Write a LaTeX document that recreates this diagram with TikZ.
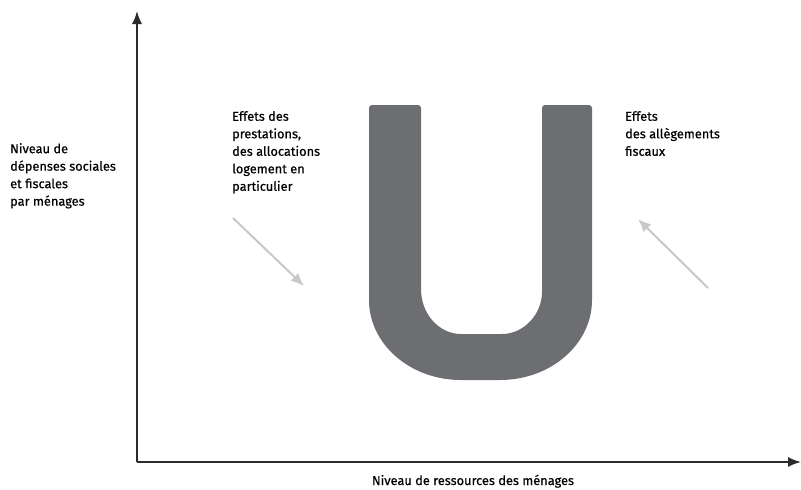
\documentclass[tikz,border=0pt]{standalone}
\usepackage{fontspec}
\setmainfont{Fira Sans}[FakeBold=0.5]
\usepackage{xcolor}
\usetikzlibrary{arrows.meta}
\definecolor{AxisGrey}{HTML}{2B2B2B}
\definecolor{UGrey}{HTML}{6D6E71}
\definecolor{ArrowGrey}{HTML}{C8C8C8}

\begin{document}
\begin{tikzpicture}[
  x=1pt,y=-1pt,
  axis/.style={-{Latex[length=13pt,width=10pt]},line width=1.6pt,color=AxisGrey},
  effect/.style={-{Latex[length=13pt,width=11pt]},line width=2pt,color=ArrowGrey},
  label/.style={inner sep=0pt,align=left,anchor=north west,font=\fontsize{12.8}{17.5}\selectfont},
  ushape/.style={fill=UGrey}
]
\useasboundingbox (0,0) rectangle (801,490);
% axes
\coordinate (origin) at (137,462);
\coordinate (ytop) at (137,11);
\coordinate (xend) at (801,462);
\draw[axis] (origin) -- (ytop);
\draw[axis] (origin) -- (xend);
% U
\fill[ushape] (369,200) -- (369,300)
  arc[start angle=180,end angle=90,x radius=92,y radius=80] -- (500,380)
  arc[start angle=90,end angle=0,x radius=92,y radius=80]
  [rounded corners=3pt] -- (592,105) -- (542,105) -- (542,289) [sharp corners]
  arc[start angle=0,end angle=90,x radius=40,y radius=45] -- (461,334)
  arc[start angle=90,end angle=180,x radius=40,y radius=45]
  [rounded corners=3pt] -- (421,105) -- (369,105) -- (369,200) [sharp corners] -- cycle;
% labels
\node[label] (ylabel) at (10,143) {Niveau de\\dépenses sociales\\et fiscales\\par ménages};
\node[label] (prest) at (232,111) {Effets des\\prestations,\\des allocations\\logement en\\particulier};
\node[label] (fisc) at (625,111) {Effets\\des allègements\\fiscaux};
\node[inner sep=0pt,anchor=base,font=\fontsize{12.8}{17.5}\selectfont] (xlabel) at (473,485) {Niveau de ressources des ménages};
% effets
\coordinate (pstart) at (233,218);
\coordinate (pend) at (304,286);
\coordinate (fstart) at (708,288);
\coordinate (fend) at (638,219);
\draw[effect] (pstart) -- (pend);
\draw[effect] (fstart) -- (fend);
\end{tikzpicture}
\end{document}
